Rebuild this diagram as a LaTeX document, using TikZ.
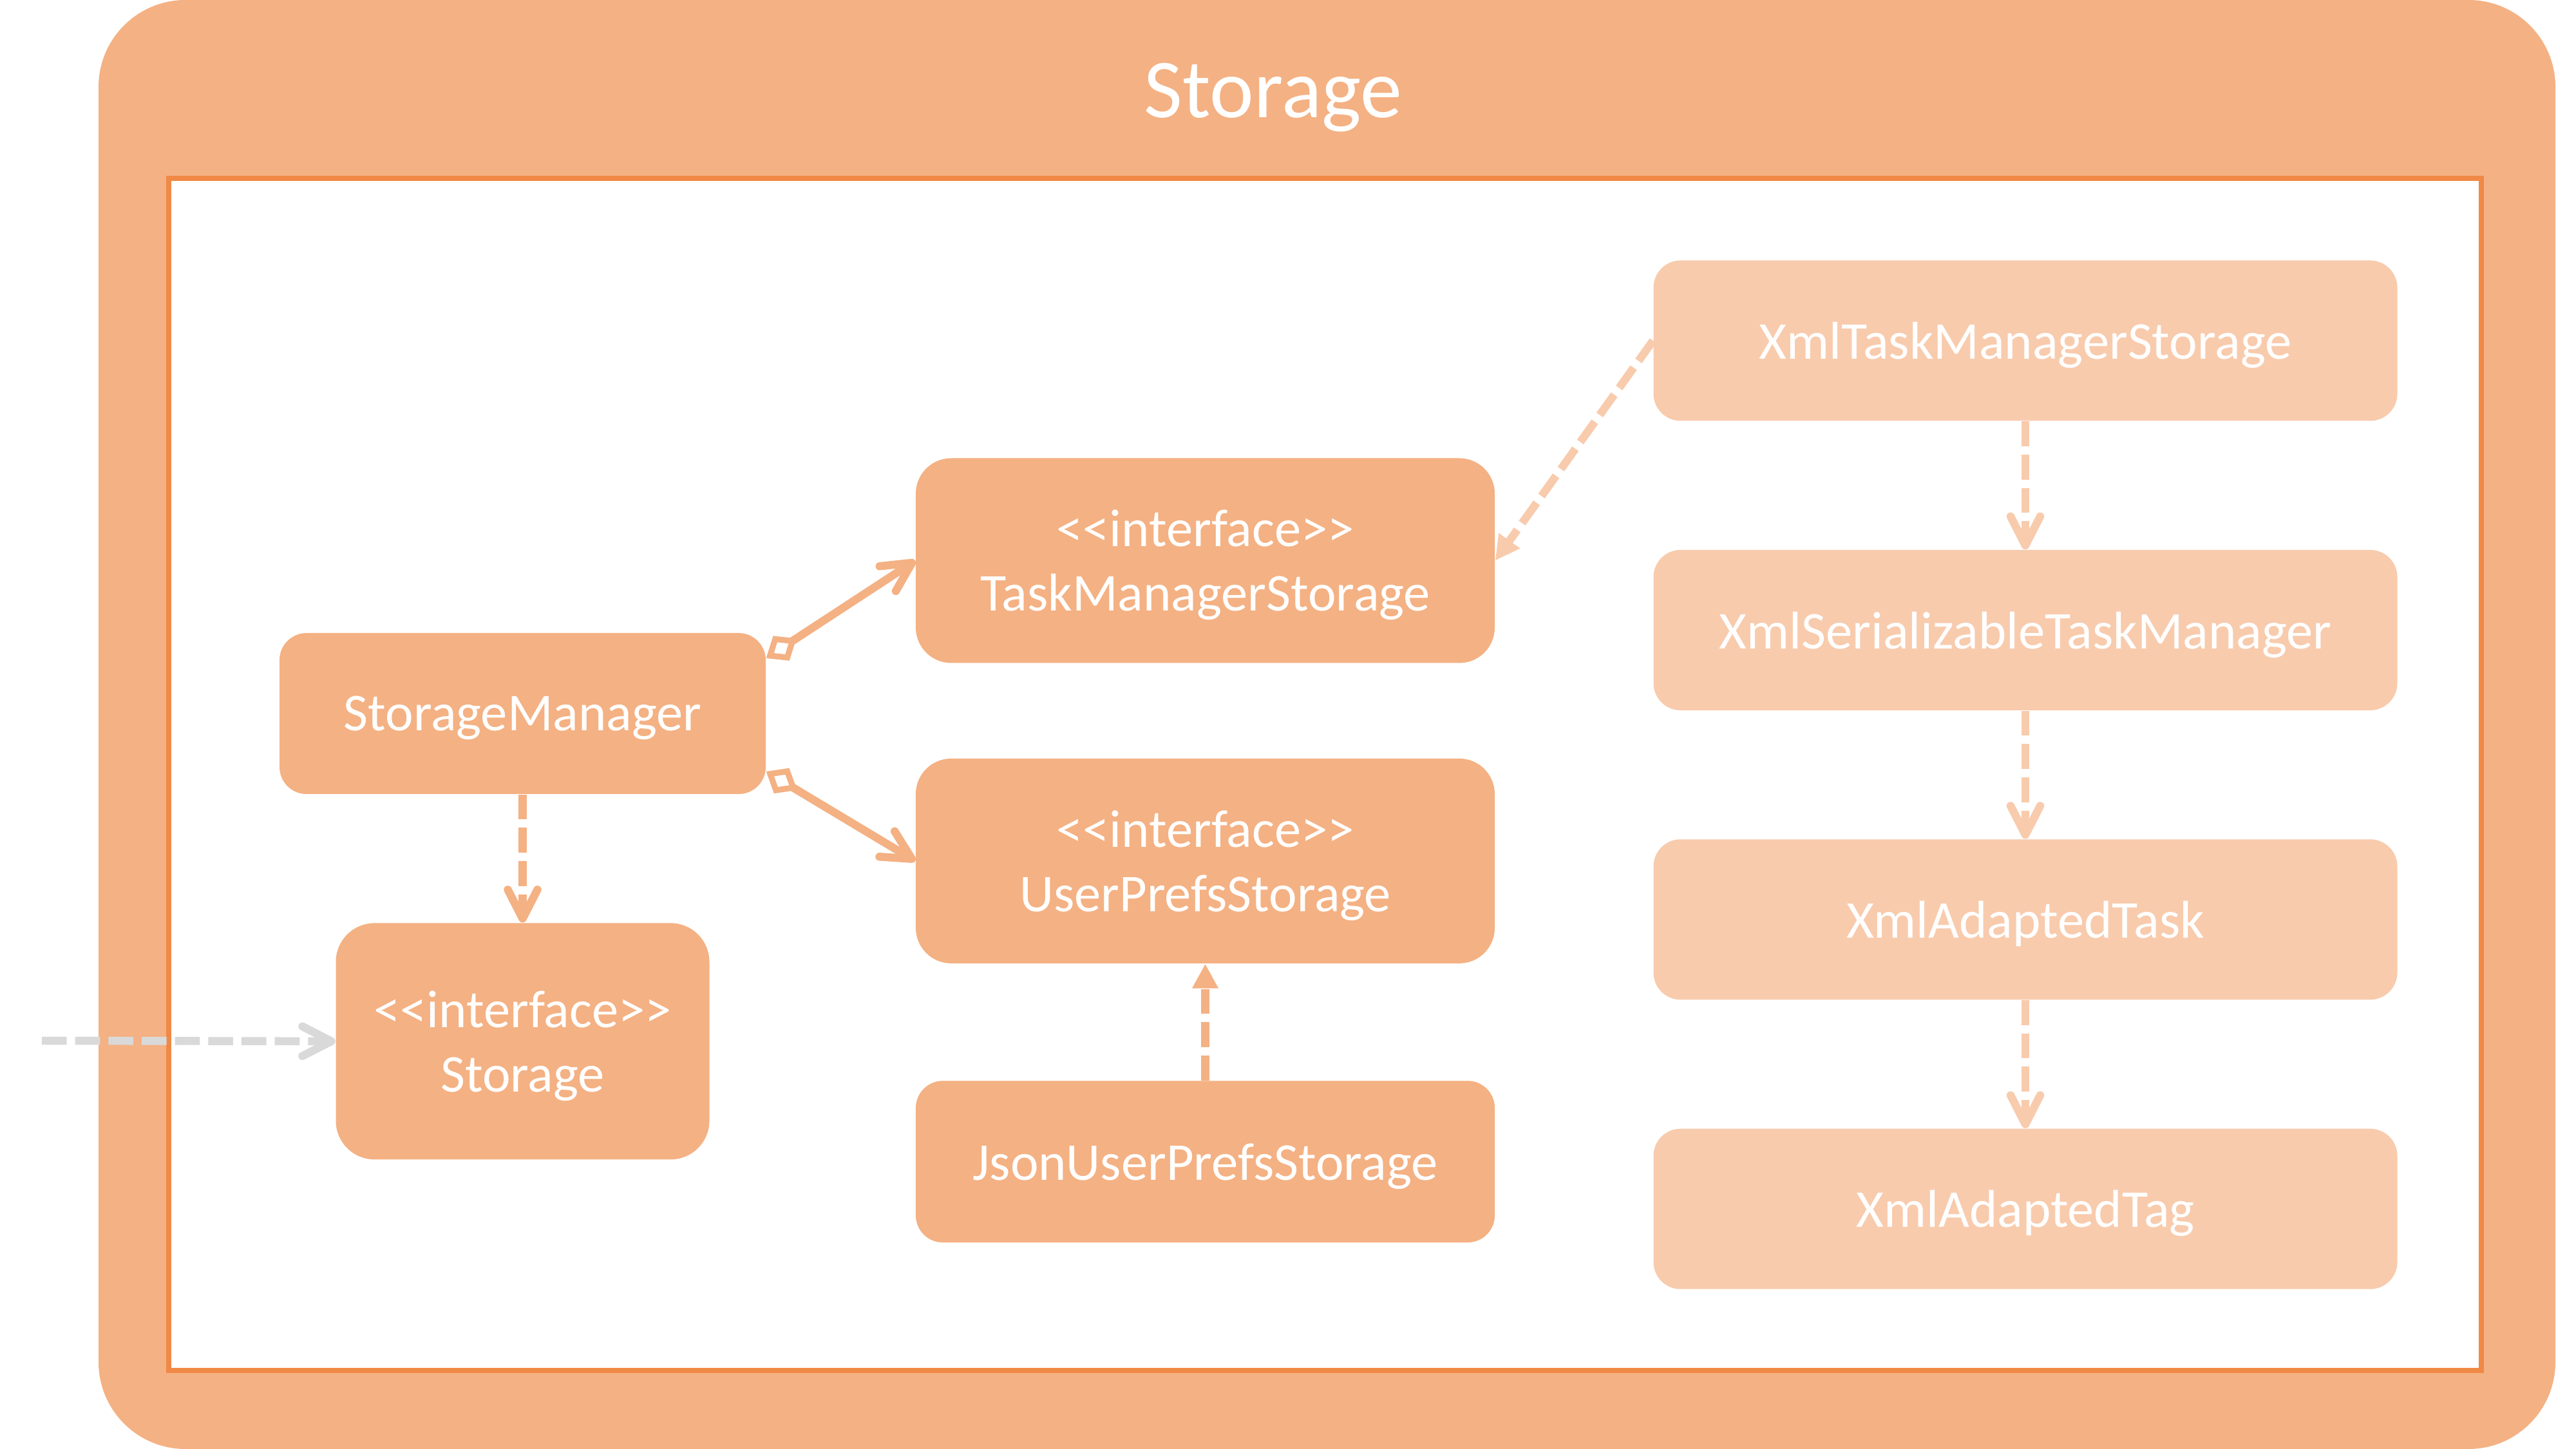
\documentclass[tikz,border=0pt]{standalone}
\usepackage{fontspec}
\setmainfont{Carlito}
\usetikzlibrary{arrows.meta,positioning}
\definecolor{stfill}{RGB}{244,177,131}
\definecolor{stlight}{RGB}{248,203,173}
\definecolor{stedge}{RGB}{240,137,70}
\definecolor{stgrey}{RGB}{217,217,217}
\tikzset{cls/.style={fill=stfill,text=white,rounded corners=0.42cm,inner sep=0pt,align=center,text depth=0pt,font=\fontsize{23.5}{28.5}\selectfont},
xcls/.style={cls,fill=stlight,minimum width=11.55cm,minimum height=2.49cm},
icls/.style={cls,minimum width=8.99cm,minimum height=3.18cm,rounded corners=0.55cm},
link/.style={line width=3.55pt,draw=stfill},
dep/.style={link,dash pattern=on 11pt off 3.7pt,-{Straight Barb[round,length=0.45cm,width=0.46cm]}},
impl/.style={link,dash pattern=on 11pt off 3.7pt,-{Triangle[length=0.38cm,width=0.38cm]}},
agg/.style={link,{Diamond[open,length=0.56cm,width=0.46cm,line width=2.6pt]}-{Straight Barb[round,length=0.45cm,width=0.46cm]}}}
\newcommand{\iface}[1]{<\kern0pt<interface>\kern0pt>\\#1}

\begin{document}
\begin{tikzpicture}
                    \useasboundingbox (0,0) rectangle (40,-22.5);
                    \fill[stfill,rounded corners=1.35cm] (1.53,0) rectangle (39.68,-22.5);
                    \draw[stedge,line width=2.3pt,fill=white] (2.62,-2.77) rectangle (38.53,-21.28);
                    \node[anchor=base,text=white,font=\fontsize{37}{44}\selectfont] (title) at (19.77,-1.83) {Storage};

                    \node[cls,minimum width=7.55cm,minimum height=2.5cm] (mgr) at (8.115,-11.08) {StorageManager};
                    \node[cls,minimum width=5.8cm,minimum height=3.67cm,rounded corners=0.6cm,below=1.99cm of mgr] (stor) {\iface{Storage}};
                    \node[icls] (tms) at (18.715,-8.705) {\iface{TaskManagerStorage}};
                    \node[icls,below=1.47cm of tms] (ups) {\iface{UserPrefsStorage}};
                    \node[cls,minimum width=8.99cm,minimum height=2.51cm,below=1.81cm of ups] (json) {JsonUserPrefsStorage};

                    \node[xcls] (xtms) at (31.45,-5.29) {XmlTaskManagerStorage};
                    \node[xcls,below=1.99cm of xtms] (xser) {XmlSerializableTaskManager};
                    \node[xcls,below=1.99cm of xser] (xtask) {XmlAdaptedTask};
                    \node[xcls,below=1.99cm of xtask] (xtag) {XmlAdaptedTag};

                    \coordinate (ext) at (0.65,-16.16);

                    \draw[agg] ([yshift=0.86cm]mgr.east) -- (tms.west);
                    \draw[agg] ([yshift=-0.9cm]mgr.east) -- (ups.west);
                    \draw[dep] (mgr.south) -- (stor.north);
                    \draw[dep,draw=stgrey] (ext) -- (stor.west);
                    \draw[impl] (json.north) -- (ups.south);
                    \draw[impl,draw=stlight] (xtms.west) -- (tms.east);
                    \foreach \a/\b in {xtms/xser,xser/xtask,xtask/xtag}
                        \draw[dep,draw=stlight] (\a.south) -- (\b.north);
                \end{tikzpicture}
\end{document}
